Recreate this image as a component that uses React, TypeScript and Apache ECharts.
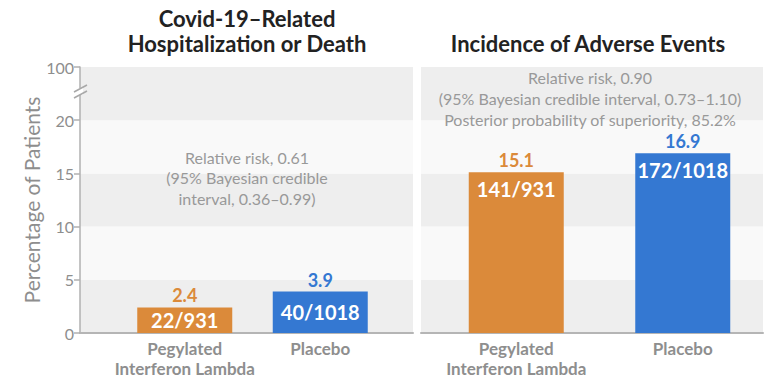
import React, { useEffect, useRef } from "react";
import * as echarts from "echarts";

const categories = ["Pegylated\nInterferon Lambda", "Placebo"];
const hospValues = [2.4, 3.9];
const hospCounts = ["22/931", "40/1018"];
const aeValues = [15.1, 16.9];
const aeCounts = ["141/931", "172/1018"];
const yMax = 25;
const yInterval = 5;
const breakTopLabel = "100"; // label shown at top of broken axis
const panelTitles = ["Covid-19–Related\nHospitalization or Death", "Incidence of Adverse Events"];
const hospNote = "Relative risk, 0.61\n(95% Bayesian credible\ninterval, 0.36–0.99)";
const aeNote =
  "Relative risk, 0.90\n(95% Bayesian credible interval, 0.73–1.10)\nPosterior probability of superiority, 85.2%";
const barColors = ["#DB8A3A", "#3478D2"];

const FONT = "Lato, 'Open Sans', sans-serif";
const GRAY = "#8e8e8e";

export default function App() {
  const ref = useRef<HTMLDivElement>(null);
  useEffect(() => {
    if (!ref.current) return;
    const chart = echarts.init(ref.current, undefined, { renderer: "svg" });

    const bgY = (showAxis: boolean) => ({
      type: "value",
      min: 0,
      max: yMax,
      interval: yInterval,
      axisLine: { show: showAxis, lineStyle: { color: "#b0b0b0", width: 1.5 } },
      axisTick: { show: showAxis, length: 6, lineStyle: { color: "#b0b0b0", width: 1.5 } },
      axisLabel: {
        show: showAxis,
        color: GRAY,
        fontFamily: FONT,
        fontSize: 16,
        margin: 6,
        formatter: (v: number) => (v === yMax ? breakTopLabel : String(v)),
      },
      splitLine: { show: false },
      splitArea: { show: true, areaStyle: { color: ["#eeeeee", "#f9f9f9"] } },
    });
    const bgX = {
      type: "value",
      min: 0,
      max: 1,
      axisLine: { show: true, onZero: false, lineStyle: { color: "#b5b5b5", width: 2 } },
      axisTick: { show: false },
      axisLabel: { show: false },
      splitLine: { show: false },
    };
    const barY = { type: "value", min: 0, max: yMax, show: false };
    const barX = {
      type: "category",
      data: categories,
      axisLine: { show: false },
      axisTick: { show: false },
      axisLabel: {
        color: GRAY,
        fontFamily: FONT,
        fontSize: 17,
        fontWeight: "bold",
        lineHeight: 20,
        margin: 5,
        interval: 0,
      },
    };

    const makeSeries = (values: number[], counts: string[], idx: number, inside: string, insideDist: number) => [
      {
        type: "bar",
        xAxisIndex: idx,
        yAxisIndex: idx,
        barWidth: 95,
        barGap: "-100%",
        data: values.map((v, i) => ({
          value: v,
          itemStyle: { color: barColors[i] },
          label: { color: barColors[i] },
        })),
        label: {
          show: true,
          position: "top",
          distance: 3,
          fontFamily: FONT,
          fontSize: 18,
          fontWeight: "bold",
          formatter: (p: any) => Number(p.value).toFixed(1),
        },
      },
      {
        type: "bar",
        xAxisIndex: idx,
        yAxisIndex: idx,
        barWidth: 95,
        barGap: "-100%",
        z: 3,
        itemStyle: { color: "rgba(0,0,0,0)" },
        data: values,
        label: {
          show: true,
          position: inside,
          distance: insideDist,
          color: "#ffffff",
          fontFamily: FONT,
          fontSize: 20,
          fontWeight: "bold",
          formatter: (p: any) => counts[p.dataIndex],
        },
      },
    ];

    chart.setOption({
      animation: false,
      grid: [
        { left: 80, right: 779 - 413, top: 67, bottom: 55 },
        { left: 421, right: 16, top: 67, bottom: 55 },
        { left: 117, right: 779 - 388, top: 67, bottom: 55 },
        { left: 433, right: 13, top: 67, bottom: 55 },
      ],
      xAxis: [
        { ...bgX, gridIndex: 0 },
        { ...bgX, gridIndex: 1 },
        { ...barX, gridIndex: 2 },
        { ...barX, gridIndex: 3 },
      ],
      yAxis: [
        {
          ...bgY(true),
          gridIndex: 0,
          name: "Percentage of Patients",
          nameLocation: "middle",
          nameGap: 38,
          nameRotate: 90,
          nameTextStyle: { color: GRAY, fontFamily: FONT, fontSize: 21 },
        },
        { ...bgY(false), gridIndex: 1 },
        { ...barY, gridIndex: 2 },
        { ...barY, gridIndex: 3 },
      ],
      series: [
        ...makeSeries(hospValues, hospCounts, 2, "inside", 0),
        ...makeSeries(aeValues, aeCounts, 3, "insideTop", 7),
      ],
      graphic: [
        {
          type: "text",
          x: 247,
          y: 6,
          z: 100,
          style: {
            text: panelTitles[0],
            textAlign: "center",
            font: `bold 22px ${FONT}`,
            fill: "#222222",
            lineHeight: 25,
          },
        },
        {
          type: "text",
          x: 588,
          y: 32,
          z: 100,
          style: {
            text: panelTitles[1],
            textAlign: "center",
            font: `bold 22px ${FONT}`,
            fill: "#222222",
          },
        },
        {
          type: "text",
          x: 247,
          y: 147,
          z: 100,
          style: {
            text: hospNote,
            textAlign: "center",
            font: `16px ${FONT}`,
            fill: "#999999",
            lineHeight: 20.5,
          },
        },
        {
          type: "text",
          x: 590,
          y: 67,
          z: 100,
          style: {
            text: aeNote,
            textAlign: "center",
            font: `16px ${FONT}`,
            fill: "#999999",
            lineHeight: 21,
          },
        },
        // axis break mark
        {
          type: "rect",
          z: 100,
          shape: { x: 77, y: 88, width: 6, height: 7 },
          style: { fill: "#ffffff" },
        },
        {
          type: "line",
          z: 101,
          shape: { x1: 74, y1: 92, x2: 87, y2: 85 },
          style: { stroke: "#a8a8a8", lineWidth: 1.5 },
        },
        {
          type: "line",
          z: 101,
          shape: { x1: 74, y1: 98, x2: 87, y2: 91 },
          style: { stroke: "#a8a8a8", lineWidth: 1.5 },
        },
      ],
    });
    return () => chart.dispose();
  }, []);
  return (
    <div
      ref={ref}
      style={{ position: "fixed", left: 0, top: 0, width: 779, height: 388, background: "#ffffff" }}
    />
  );
}
